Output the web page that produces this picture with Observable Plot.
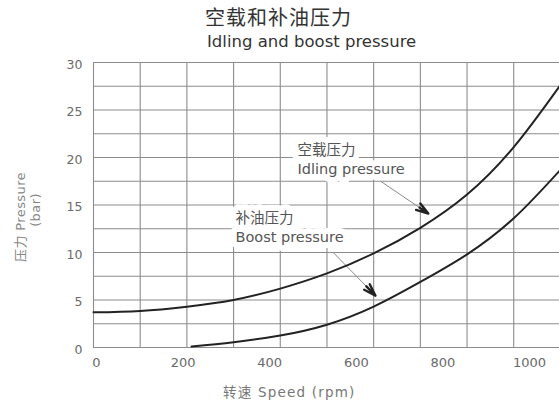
<!DOCTYPE html>
<html>
<head>
<meta charset="utf-8">
<script src="https://cdn.jsdelivr.net/npm/d3@7"></script>
<script src="https://cdn.jsdelivr.net/npm/@observablehq/plot@0.6"></script>
<style>
  html, body { margin: 0; padding: 0; background: #fff; overflow: hidden; }
  #chart { position: relative; width: 559px; height: 403px; font-family: "DejaVu Sans", "Noto Sans CJK SC", sans-serif; }
  #chart svg { position: absolute; left: 0; top: 0; }
  .t { position: absolute; white-space: nowrap; line-height: 1; }
  #title { left: 205px; top: 8px; font-size: 20px; letter-spacing: 1px; color: #333; }
  #subtitle { left: 207px; top: 34px; font-size: 16.5px; color: #333; }
  #xtitle { left: 223px; top: 386px; font-size: 13.5px; letter-spacing: 1.2px; color: #777; }
  .ytitle { font-size: 13px; letter-spacing: 0.4px; color: #888; transform: translate(-50%, -50%) rotate(-90deg); }
</style>
</head>
<body>
<div id="chart"></div>
<script>
// ---- text ----
const titleText = "空载和补油压力";
const subtitleText = "Idling and boost pressure";
const xTitleText = "转速 Speed (rpm)";
const yTitleLines = ["压力 Pressure", "(bar)"];

// ---- axes ----
const xTicks = [0, 200, 400, 600, 800, 1000];
const yTicks = [0, 5, 10, 15, 20, 25, 30];
const xGrid = [0, 100, 200, 300, 400, 500, 600, 700, 800, 900];
const yGrid = [0, 2.5, 5, 7.5, 10, 12.5, 15, 17.5, 20, 22.5, 25, 27.5, 30];

// ---- series ----
const idleRpm = [0, 100, 200, 300, 400, 500, 600, 700, 800, 900, 998];
const idleBar = [3.7, 3.85, 4.3, 5.0, 6.2, 7.8, 9.9, 12.6, 16.1, 21.1, 27.5];
const boostRpm = [210, 300, 400, 500, 600, 700, 800, 900, 998];
const boostBar = [0.1, 0.56, 1.26, 2.4, 4.3, 6.9, 9.8, 13.6, 18.6];

// ---- annotations ----
const annotText = ["空载压力\nIdling pressure", "补油压力\nBoost pressure"];
const annotRpm = [437, 304];
const annotBar = [19.9, 12.7];
const arrowRpm1 = [615, 514];
const arrowBar1 = [17.5, 9.97];
const arrowRpm2 = [717, 604];
const arrowBar2 = [14.1, 5.45];

const idle = idleRpm.map((x, i) => ({x, y: idleBar[i]}));
const boost = boostRpm.map((x, i) => ({x, y: boostBar[i]}));
const annots = annotText.map((t, i) => ({t, x: annotRpm[i], y: annotBar[i]}));
const arrows = arrowRpm1.map((x1, i) => ({x1, y1: arrowBar1[i], x2: arrowRpm2[i], y2: arrowBar2[i]}));

const W = 559, H = 403;
const common = {
  width: W, height: H,
  marginTop: 62, marginBottom: 56
};

const main = Plot.plot({
  ...common,
  marginLeft: 93, marginRight: 0,
  x: {domain: [0, 998], label: null, axis: null},
  y: {domain: [0, 30], label: null},
  style: {background: "transparent", color: "#6a6a6a", fontFamily: "'DejaVu Sans', 'Noto Sans CJK SC', sans-serif"},
  marks: [
    Plot.ruleX(xGrid, {stroke: "#8c8c8c", strokeWidth: 1.1}),
    Plot.ruleY(yGrid, {stroke: "#8c8c8c", strokeWidth: 1.1}),
    Plot.axisY(yTicks, {tickSize: 0, tickPadding: 11, fontSize: 12.5, dy: 2, label: null}),
    Plot.text(annots, {x: "x", y: "y", text: "t", textAnchor: "start", lineAnchor: "middle",
      lineHeight: 1.3, fontSize: 14.5, fill: "#555", stroke: "white", strokeWidth: 12,
      strokeLinejoin: "round", paintOrder: "stroke"}),
    Plot.link(arrows, {x1: "x1", y1: "y1", x2: "x2", y2: "y2", stroke: "#8a8a8a", strokeWidth: 1}),
    Plot.arrow(arrows, {x1: "x1", y1: "y1", x2: "x2", y2: "y2", stroke: "#222", strokeWidth: 2.4,
      headLength: 8, headAngle: 35, bend: 0, insetStart: 47}),
    Plot.line(idle, {x: "x", y: "y", curve: "natural", stroke: "#222", strokeWidth: 2}),
    Plot.line(boost, {x: "x", y: "y", curve: "natural", stroke: "#222", strokeWidth: 2})
  ]
});

const axisOverlay = Plot.plot({
  ...common,
  marginLeft: 96, marginRight: 30,
  x: {domain: [0, 1000], label: null},
  y: {domain: [0, 30], axis: null},
  style: {background: "transparent", color: "#6a6a6a", fontFamily: "'DejaVu Sans', sans-serif"},
  marks: [
    Plot.axisX(xTicks, {tickSize: 0, tickPadding: 10, fontSize: 13, label: null, tickFormat: d => String(d)})
  ]
});

const chart = document.getElementById("chart");
chart.appendChild(main);
chart.appendChild(axisOverlay);

function addText(id, cls, text) {
  const d = document.createElement("div");
  d.className = cls;
  if (id) d.id = id;
  d.textContent = text;
  chart.appendChild(d);
  return d;
}
addText("title", "t", titleText);
addText("subtitle", "t", subtitleText);
addText("xtitle", "t", xTitleText);
const y1 = addText(null, "t ytitle", yTitleLines[0]);
y1.style.left = "20px"; y1.style.top = "217px";
const y2 = addText(null, "t ytitle", yTitleLines[1]);
y2.style.left = "35px"; y2.style.top = "210px";
</script>
</body>
</html>
